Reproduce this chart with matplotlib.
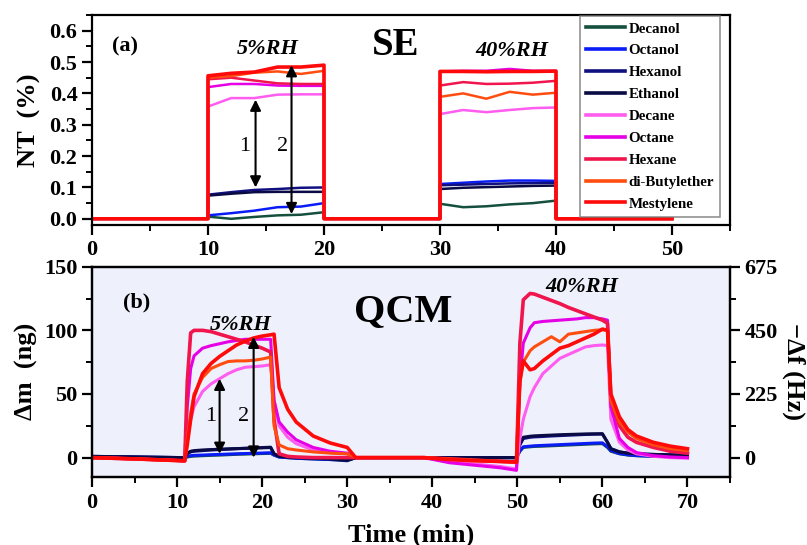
import numpy as np
import matplotlib.pyplot as plt
from matplotlib.ticker import MultipleLocator

plt.rcParams['font.family'] = ['Liberation Serif', 'DejaVu Serif']
plt.rcParams['font.weight'] = 'bold'

names = ['Decanol', 'Octanol', 'Hexanol', 'Ethanol', 'Decane', 'Octane',
         'Hexane', 'di-Butylether', 'Mestylene']
colors = ['#15503f', '#0a1cf5', '#101080', '#0a0a45', '#ff5cf0', '#e600e6',
          '#f0154c', '#ff4d10', '#ff0a0a']

# SE: plateau values at t = 10,12,...,20 (5%RH) and 30,32,...,40 (40%RH)
se_t5 = [10, 12, 14, 16, 18, 20]
se_t40 = [30, 32, 34, 36, 38, 40]
se_decanol = [0.007, 0.0, 0.006, 0.011, 0.013, 0.021, 0.048, 0.037, 0.040, 0.046, 0.050, 0.058]
se_octanol = [0.011, 0.018, 0.026, 0.037, 0.039, 0.050, 0.111, 0.115, 0.119, 0.122, 0.122, 0.121]
se_hexanol = [0.077, 0.085, 0.092, 0.095, 0.099, 0.100, 0.107, 0.109, 0.111, 0.113, 0.114, 0.115]
se_ethanol = [0.074, 0.080, 0.085, 0.086, 0.086, 0.086, 0.095, 0.099, 0.101, 0.103, 0.105, 0.106]
se_decane = [0.358, 0.385, 0.385, 0.396, 0.397, 0.397, 0.334, 0.347, 0.340, 0.347, 0.353, 0.355]
se_octane = [0.420, 0.430, 0.430, 0.425, 0.424, 0.424, 0.470, 0.472, 0.472, 0.478, 0.472, 0.472]
se_hexane = [0.445, 0.450, 0.441, 0.432, 0.430, 0.430, 0.425, 0.436, 0.430, 0.431, 0.434, 0.440]
se_dibutyl = [0.450, 0.455, 0.466, 0.470, 0.462, 0.472, 0.389, 0.400, 0.383, 0.405, 0.396, 0.402]
se_mestylene = [0.456, 0.464, 0.468, 0.484, 0.484, 0.490, 0.470, 0.470, 0.469, 0.470, 0.470, 0.471]

# QCM: mass change (ng) vs time (min)
qcm_t = [0, 5, 10.9, 11.2, 11.6, 12, 13, 14, 15, 16, 17, 18, 19, 20, 21, 21.4, 22, 23, 24, 26,
         28, 30, 31, 35, 39, 42, 45, 48, 49.9, 50.3, 50.7, 51.5, 52, 53, 54, 55, 56, 57, 58,
         59, 60, 60.6, 61, 62, 63, 64, 66, 68, 70]
qcm_decanol = [0.5, 0.2, -0.5, 0.5, 1.0, 1.2, 1.5, 1.8, 2.0, 2.3, 2.6, 2.8, 3.0, 3.2, 3.4, 2.0, 0.5,
               0.0, -0.5, -1.0, -1.5, -2.5, 0, 0, 0, 0, 0, 0, 0, 5, 8, 8.5, 8.8, 9.0, 9.3, 9.6,
               9.9, 10.2, 10.5, 10.8, 11.0, 8.0, 5.0, 3.0, 2.0, 1.5, 1.0, 0.7, 0.5]
qcm_octanol = [0.8, 0.4, 0.0, 1.0, 1.5, 1.8, 2.0, 2.3, 2.5, 2.8, 3.0, 3.2, 3.4, 3.6, 3.8, 2.0, 0.5,
               0.0, -0.5, -1.0, -1.5, -2.0, 0, 0, 0, 0, 0, 0, 0, 5.5, 8.5, 9.0, 9.3, 9.6, 9.9,
               10.2, 10.5, 10.8, 11.1, 11.4, 11.6, 8.5, 5.5, 3.2, 2.2, 1.6, 1.1, 0.8, 0.6]
qcm_hexanol = [1.0, 0.5, 0.0, 3.0, 4.5, 5.0, 5.5, 6.0, 6.3, 6.6, 7.0, 7.3, 7.6, 7.9, 8.2, 3.0, 1.0,
               0.5, 0.0, -0.5, -1.0, -2.0, 0, 0, 0, 0, 0, 0, 0, 10, 15, 16, 16.3, 16.6, 17.0, 17.3,
               17.6, 17.9, 18.2, 18.4, 18.5, 12, 7, 4.5, 3.5, 3.0, 2.5, 2.2, 2.0]
qcm_ethanol = [1.0, 0.5, 0.0, 3.5, 5.0, 5.5, 6.0, 6.3, 6.6, 6.9, 7.1, 7.3, 7.5, 7.7, 7.9, 3.0, 1.0,
               0.5, 0.0, -0.5, -1.0, -2.0, 0, 0, 0, 0, 0, 0, 0, 11, 16, 16.8, 17.1, 17.4, 17.7,
               18.0, 18.2, 18.4, 18.6, 18.7, 18.8, 12, 7, 4.5, 3.5, 3.0, 2.5, 2.2, 2.0]
qcm_decane = [0.0, -1.0, -2.5, 15, 30, 40, 52, 58, 62, 66, 69, 71, 71.5, 72, 73, 45, 25, 16, 11, 6,
              4, 3, 0, 0, 0, -3, -5, -7, -9, 15, 30, 48, 55, 66, 72, 78, 81, 84, 87, 88, 88.5, 88,
              30, 12, 6, 3, 1, 0, -0.5]
qcm_octane = [0.0, -1.0, -2.5, 40, 70, 80, 86, 88, 89.5, 91, 92, 93, 93, 93, 93, 45, 28, 20, 14, 8,
              5, 3.5, 0, 0, 0, -4, -6, -8, -10, 60, 90, 102, 106, 107, 107.5, 108, 108.5, 109, 110,
              110, 109, 108, 40, 15, 8, 4, 1.5, 0.5, 0]
qcm_hexane = [0.0, -1.0, -2.5, 60, 98, 100, 100, 99, 97, 95, 93, 91, 88.5, 86, 83, 30, 3, 1, 0.5, 0,
              0, 0, 0, 0, 0, -1, -2, -3, -3.5, 90, 124, 129, 128.5, 126, 123.5, 121, 118, 115.5,
              113, 110.5, 108, 105.5, 45, 25, 16, 12, 8, 5, 3.5]
qcm_dibutyl = [0.0, -1.0, -2.5, 15, 35, 50, 63, 70, 73, 75.5, 76, 76, 76.5, 77.5, 79, 25, 10, 7, 6,
               4.5, 3.5, 3, 0, 0, 0, -1, -2, -3, -3.5, 60, 75, 84, 87, 91, 95, 91, 97, 98, 99, 100,
               100.5, 100, 45, 28, 20, 15, 10, 7, 5.5]
qcm_mestylene = [0.0, -1.0, -2.5, 10, 30, 48, 66, 74, 79.5, 84, 88.5, 91.5, 94, 95.5, 96.5, 97, 55,
                 38, 28, 17, 11.5, 8, 0, 0, 0, -1.5, -2.5, -3, -3.5, 60, 76, 69, 70, 76, 81, 86, 88,
                 91, 94, 97, 101, 100, 50, 32, 22, 17, 12, 9, 7]

se_all = [se_decanol, se_octanol, se_hexanol, se_ethanol, se_decane, se_octane,
          se_hexane, se_dibutyl, se_mestylene]
qcm_all = [qcm_decanol, qcm_octanol, qcm_hexanol, qcm_ethanol, qcm_decane, qcm_octane,
           qcm_hexane, qcm_dibutyl, qcm_mestylene]

fig = plt.figure(figsize=(8.07, 5.45), dpi=100)
ax1 = fig.add_axes([0.114, 0.587, 0.7906, 0.3855])
ax2 = fig.add_axes([0.114, 0.1253, 0.7906, 0.3853])

# ---- (a) SE
se_t = [0, 10] + se_t5 + [20, 30] + se_t40 + [40, 50]
for name, c, v in zip(names, colors, se_all):
    y = [0, 0] + v[:6] + [0, 0] + v[6:] + [0, 0]
    lw = 2.6 if name == 'Mestylene' else 1.8
    ax1.plot(se_t, y, color=c, lw=lw, label=name)

ax1.set_xlim(0, 55)
ax1.set_ylim(-0.02, 0.65)
ax1.xaxis.set_major_locator(MultipleLocator(10))
ax1.xaxis.set_minor_locator(MultipleLocator(5))
ax1.yaxis.set_major_locator(MultipleLocator(0.1))
ax1.yaxis.set_minor_locator(MultipleLocator(0.05))
ax1.set_ylabel('NT  (%)', fontsize=19, fontweight='bold', labelpad=6)

ax1.text(2.85, 0.55, '(a)', fontsize=16, fontweight='bold', ha='center', va='center')
ax1.text(15.1, 0.542, '5%RH', fontsize=16, fontweight='bold', style='italic', ha='center', va='center')
ax1.text(26.2, 0.552, 'SE', fontsize=28, fontweight='bold', ha='center', va='center')
ax1.text(36.2, 0.535, '40%RH', fontsize=16, fontweight='bold', style='italic', ha='center', va='center')

arrow = dict(arrowstyle='<|-|>', color='black', lw=1.5, mutation_scale=16, shrinkA=0, shrinkB=0)
ax1.annotate('', xy=(14.1, 0.38), xytext=(14.1, 0.1), arrowprops=arrow)
ax1.annotate('', xy=(17.2, 0.49), xytext=(17.2, 0.015), arrowprops=arrow)
ax1.text(13.2, 0.23, '1', fontsize=16, fontweight='normal', ha='center', va='center')
ax1.text(16.4, 0.23, '2', fontsize=16, fontweight='normal', ha='center', va='center')

leg = ax1.legend(loc='upper right', bbox_to_anchor=(0.984, 0.995), fontsize=10.8,
                 frameon=True, fancybox=False, handlelength=2.6, handletextpad=0.2,
                 labelspacing=0.56, borderpad=0.4, borderaxespad=0)
leg.get_frame().set_edgecolor('#777777')
leg.get_frame().set_linewidth(1.2)
for h in leg.get_lines():
    h.set_linewidth(2.6)

# ---- (b) QCM
ax2.set_facecolor('#eef0fb')
for name, c, v in zip(names, colors, qcm_all):
    lw = 2.6 if name in ('Mestylene', 'Hexane') else 2.2
    ax2.plot(qcm_t, v, color=c, lw=lw)

ax2.set_xlim(0, 75)
ax2.set_ylim(-15, 150)
ax2.xaxis.set_major_locator(MultipleLocator(10))
ax2.xaxis.set_minor_locator(MultipleLocator(5))
ax2.yaxis.set_major_locator(MultipleLocator(50))
ax2.yaxis.set_minor_locator(MultipleLocator(25))
ax2.set_ylabel('\u0394m  (ng)', fontsize=19, fontweight='bold', labelpad=4)
ax2.set_xlabel('Time (min)', fontsize=19, fontweight='bold', labelpad=7)

ax2r = ax2.twinx()
ax2r.set_ylim(-15 * 4.5, 150 * 4.5)
ax2r.yaxis.set_major_locator(MultipleLocator(225))
ax2r.yaxis.set_minor_locator(MultipleLocator(112.5))
ax2r.set_ylabel('\u2212\u0394f (Hz)', fontsize=19, fontweight='bold', rotation=270, labelpad=20)

ax2.text(5.3, 122, '(b)', fontsize=16, fontweight='bold', ha='center', va='center')
ax2.text(17.5, 104, '5%RH', fontsize=16, fontweight='bold', style='italic', ha='center', va='center')
ax2.text(36.6, 114.6, 'QCM', fontsize=29, fontweight='bold', ha='center', va='center')
ax2.text(57.6, 134, '40%RH', fontsize=16, fontweight='bold', style='italic', ha='center', va='center')

ax2.annotate('', xy=(15, 62), xytext=(15, 3), arrowprops=arrow)
ax2.annotate('', xy=(19, 95), xytext=(19, 0), arrowprops=arrow)
ax2.text(13.9, 32, '1', fontsize=16, fontweight='normal', ha='center', va='center')
ax2.text(17.8, 32, '2', fontsize=16, fontweight='normal', ha='center', va='center')

for ax in (ax1, ax2, ax2r):
    for s in ax.spines.values():
        s.set_linewidth(1.6)
    ax.tick_params(which='major', direction='out', length=7, width=1.6, labelsize=16)
    ax.tick_params(which='minor', direction='out', length=4, width=1.4)
ax1.tick_params(which='both', top=False, right=False)
ax2.tick_params(which='both', top=False, right=False)
ax2.tick_params(axis='x', pad=5)

fig.savefig('out.png', dpi=100)
